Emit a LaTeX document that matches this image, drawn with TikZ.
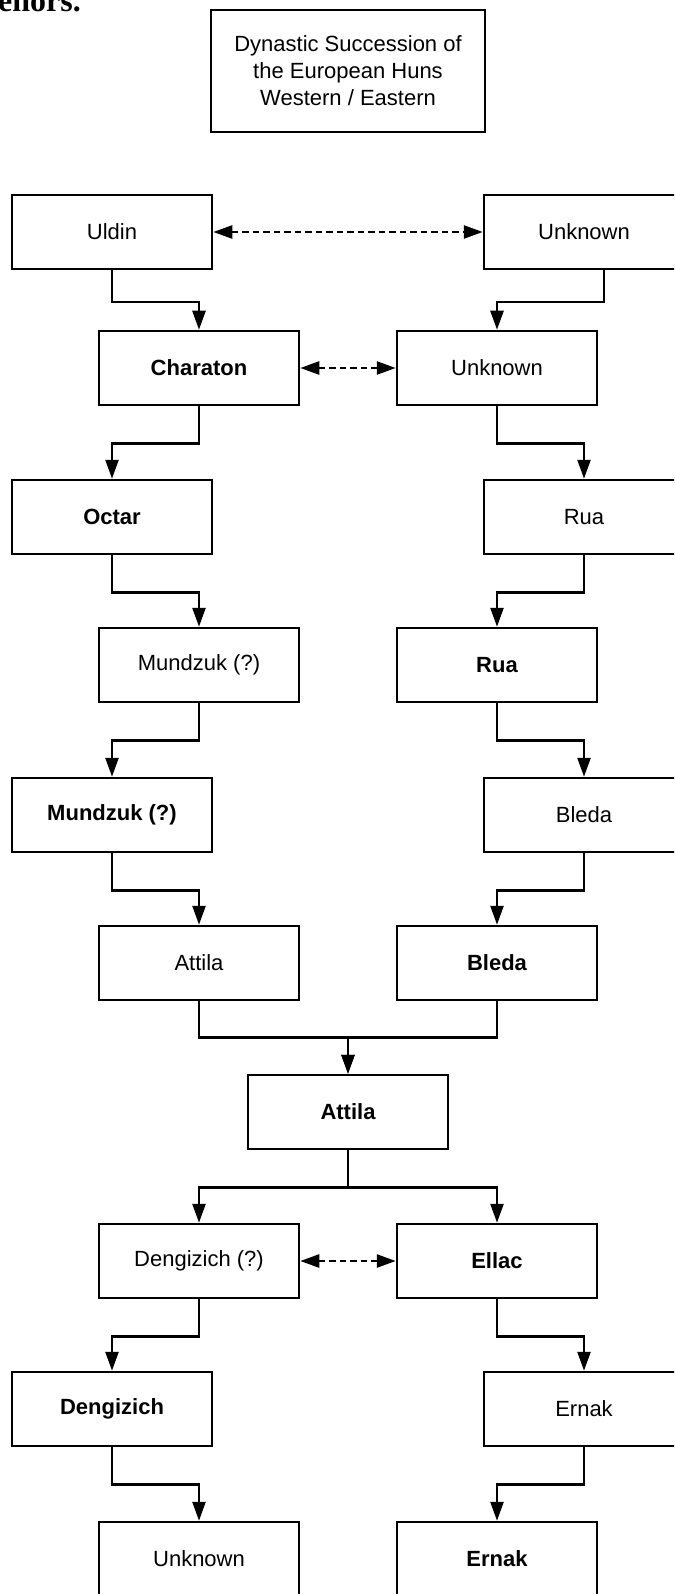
\documentclass[tikz,border=0pt]{standalone}
\usepackage{fontspec}
\newfontfamily\arialfont{Liberation Sans}
\newfontfamily\timesfont{Liberation Serif}
\usetikzlibrary{arrows.meta}

\tikzset{
  heir/.style={draw, line width=2.5pt, minimum width=200pt, minimum height=74pt,
    inner sep=0pt, font=\arialfont\fontsize{22}{26}\selectfont},
  ruler/.style={heir, font=\arialfont\bfseries\fontsize{22}{26}\selectfont},
  wire/.style={line width=2.5pt},
  succ/.style={wire, -{Triangle[length=19pt,width=13pt]}},
  kin/.style={wire, dash pattern=on 6.5pt off 4pt,
    {Triangle[length=19pt,width=13pt]}-{Triangle[length=19pt,width=13pt]}},
}

\begin{document}
\begin{tikzpicture}[x=1pt, y=-1pt]
            \useasboundingbox (0,0) rectangle (674,1594);
            \clip (0,0) rectangle (674,1594);
            \node[anchor=base west, inner sep=0pt, font=\timesfont\bfseries\fontsize{32}{32}\selectfont] (cut) at (-2,12) {enors.};
            \node[heir, minimum width=274pt, minimum height=122pt, align=center,
              font=\arialfont\fontsize{22}{27}\selectfont] (title) at (348,71)
              {Dynastic Succession of\\the European Huns\\Western / Eastern};

            % western line
            \node[heir]  (uldin)   at (112,232)  {Uldin};
            \node[ruler] (chara)   at (199,368)  {Charaton};
            \node[ruler] (octar)   at (112,517)  {Octar};
            \node[heir]  (mundA)   at (199,665)  {Mundzuk (?)};
            \node[ruler] (mundB)   at (112,815)  {Mundzuk (?)};
            \node[heir]  (attA)    at (199,963)  {Attila};

            % eastern line
            \node[heir]  (unkA)    at (584,232)  {Unknown};
            \node[heir]  (unkB)    at (497,368)  {Unknown};
            \node[heir]  (ruaA)    at (584,517)  {Rua};
            \node[ruler] (ruaB)    at (497,665)  {Rua};
            \node[heir]  (bledA)   at (584,815)  {Bleda};
            \node[ruler] (bledB)   at (497,963)  {Bleda};

            \node[ruler] (attB)    at (348,1112) {Attila};

            \node[heir]  (dengA)   at (199,1261) {Dengizich (?)};
            \node[ruler] (dengB)   at (112,1409) {Dengizich};
            \node[heir]  (unkC)    at (199,1559) {Unknown};
            \node[ruler] (ellac)   at (497,1261) {Ellac};
            \node[heir]  (ernA)    at (584,1409) {Ernak};
            \node[ruler] (ernB)    at (497,1559) {Ernak};

            \draw[succ] (uldin.south) -- ++(0,32) -| (chara.north);
            \draw[succ] (chara.south) -- ++(0,37) -| (octar.north);
            \draw[succ] (octar.south) -- ++(0,37) -| (mundA.north);
            \draw[succ] (mundA.south) -- ++(0,37) -| (mundB.north);
            \draw[succ] (mundB.south) -- ++(0,37) -| (attA.north);
            \draw[succ] (attA.south) -- ++(0,36) -| (attB.north);

            \draw[succ] ([xshift=20pt]unkA.south) -- ++(0,32) -| (unkB.north);
            \draw[succ] (unkB.south) -- ++(0,37) -| (ruaA.north);
            \draw[succ] (ruaA.south) -- ++(0,37) -| (ruaB.north);
            \draw[succ] (ruaB.south) -- ++(0,37) -| (bledA.north);
            \draw[succ] (bledA.south) -- ++(0,37) -| (bledB.north);
            \draw[succ] (bledB.south) -- ++(0,36) -| (attB.north);

            \draw[succ] (attB.south) -- ++(0,37) -| (dengA.north);
            \draw[succ] (attB.south) -- ++(0,37) -| (ellac.north);
            \draw[succ] (dengA.south) -- ++(0,37) -| (dengB.north);
            \draw[succ] (dengB.south) -- ++(0,37) -| (unkC.north);
            \draw[succ] (ellac.south) -- ++(0,37) -| (ernA.north);
            \draw[succ] (ernA.south) -- ++(0,37) -| (ernB.north);

            \draw[kin] (uldin.east) -- (unkA.west);
            \draw[kin] (chara.east) -- (unkB.west);
            \draw[kin] (dengA.east) -- (ellac.west);

            %\draw[red] (348,0) -- (348,1594);
\end{tikzpicture}
\end{document}
